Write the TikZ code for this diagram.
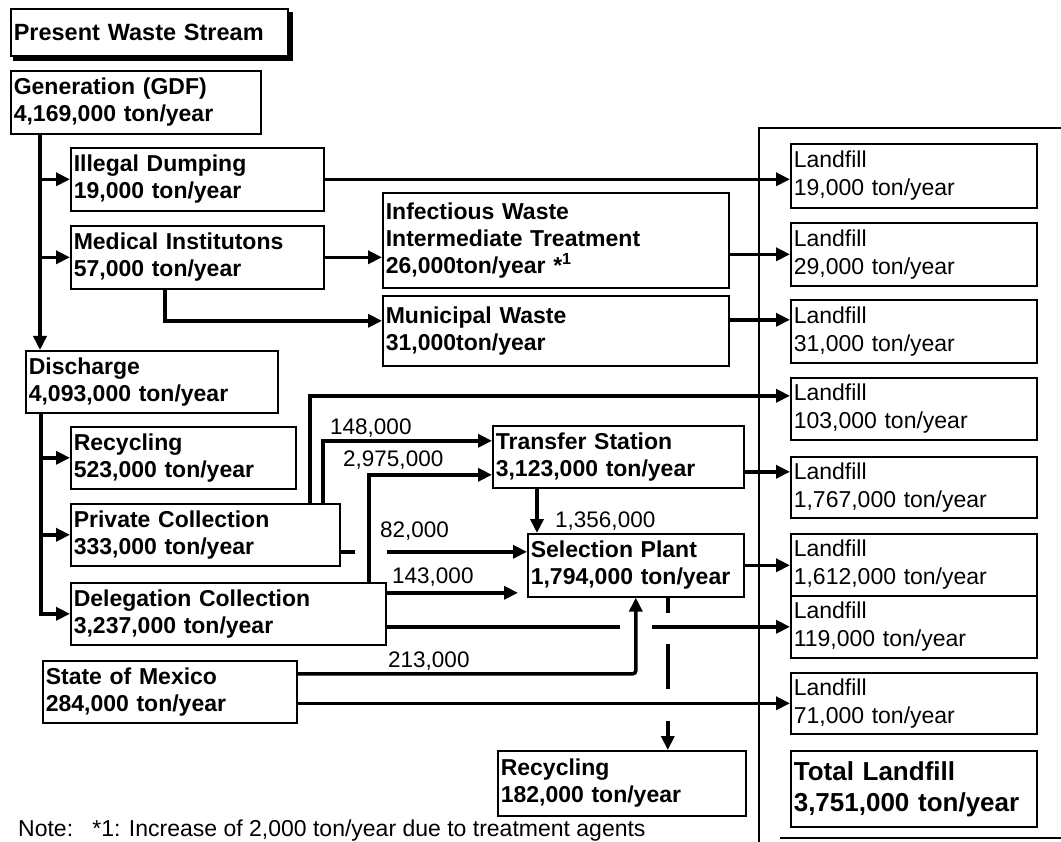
\documentclass[tikz,border=0pt]{standalone}
\usepackage{fontspec}
\setmainfont{Liberation Sans}
\usetikzlibrary{arrows.meta,calc}
\newcommand\bxfont{\fontsize{23}{27}\selectfont\bfseries}
\newcommand\lffont{\fontsize{23}{28}\selectfont}
\newcommand\lblfont{\fontsize{22.5}{22.5}\selectfont}
\begin{document}
\begin{tikzpicture}[x=1pt,y=-1pt,
  bx/.style={draw, line width=1.6pt, anchor=north west, inner xsep=3pt, inner ysep=0pt, align=left, font=\bxfont},
  lf/.style={bx, font=\lffont},
  conn/.style={line width=3.5pt},
  arr/.style={conn, -{Triangle[length=14pt,width=13pt]}},
  lbl/.style={anchor=base west, inner sep=0pt, font=\lblfont},
  frameline/.style={line width=2.4pt}]
\useasboundingbox (0,0) rectangle (1061,842);
\clip (0,0) rectangle (1061,842);
\fill[white] (0,0) rectangle (1061,842);

% title
\node[bx, text width=271pt, minimum height=47pt, font=\fontsize{23.5}{27}\selectfont\bfseries] (title) at (10,8) {Present Waste Stream};
\draw[line width=4pt] ($(title.north east)+(2,4)$) -- ($(title.south east)+(2,2)$) -- ($(title.south west)+(3,2)$);

% left column
\node[bx, text width=244pt, minimum height=63pt] (gen) at (10,70) {Generation (GDF)\\4,169,000 ton/year};
\node[bx, text width=247pt, minimum height=63pt] (illegal) at (70,147) {Illegal Dumping\\19,000 ton/year};
\node[bx, text width=247pt, minimum height=63pt] (medical) at (70,225) {Medical Institutons\\57,000 ton/year};
\node[bx, text width=340pt, minimum height=95pt] (infectious) at (382,192) {Infectious Waste\\Intermediate Treatment\\26,000ton/year~*\textsuperscript{1}};
\node[bx, text width=340pt, minimum height=70pt] (municipal) at (382,295) {Municipal Waste\\31,000ton/year};
\node[bx, text width=246pt, minimum height=62pt] (discharge) at (25,350) {Discharge\\4,093,000 ton/year};
\node[bx, text width=219pt, minimum height=62pt] (recyc1) at (70,426) {Recycling\\523,000 ton/year};
\node[bx, text width=263pt, minimum height=62pt] (private) at (70,503) {Private Collection\\333,000 ton/year};
\node[bx, text width=309pt, minimum height=62pt] (delegation) at (70,582) {Delegation Collection\\3,237,000 ton/year};
\node[bx, text width=248pt, minimum height=62pt] (state) at (42,660) {State of Mexico\\284,000 ton/year};
\node[bx, text width=245pt, minimum height=62pt] (transfer) at (492,425) {Transfer Station\\3,123,000 ton/year};
\node[bx, text width=210pt, minimum height=63pt] (selection) at (527,533) {Selection Plant\\1,794,000 ton/year};
\node[bx, text width=242pt, minimum height=65pt] (recyc2) at (497,750) {Recycling\\182,000 ton/year};

% landfills
\node[lf, text width=240pt, minimum height=64pt] (L1) at (790,143) {Landfill\\19,000 ton/year};
\node[lf, text width=240pt, minimum height=63pt] (L2) at (790,222) {Landfill\\29,000 ton/year};
\node[lf, text width=240pt, minimum height=63pt] (L3) at (790,299) {Landfill\\31,000 ton/year};
\node[lf, text width=240pt, minimum height=62pt] (L4) at (790,377) {Landfill\\103,000 ton/year};
\node[lf, text width=240pt, minimum height=61pt] (L5) at (790,456) {Landfill\\1,767,000 ton/year};
\node[lf, text width=240pt, minimum height=62pt] (L6) at (790,533) {Landfill\\1,612,000 ton/year};
\node[lf, text width=240pt, minimum height=62pt] (L7) at (790,595) {Landfill\\119,000 ton/year};
\node[lf, text width=240pt, minimum height=61pt] (L8) at (790,672) {Landfill\\71,000 ton/year};
\node[bx, text width=240pt, minimum height=76pt, font=\fontsize{26}{31}\selectfont\bfseries] (total) at (790,750) {Total Landfill\\3,751,000 ton/year};

% frame
\draw[frameline] (759,842) -- (759,128) -- (1061,128);
\draw[frameline] (780,838) -- (1061,838);

% generation trunk
\coordinate (gtr) at ($(gen.south west)+(30,0)$);
\draw[arr] (gtr) -- (gtr |- discharge.north);
\draw[arr] (gtr |- illegal.west) -- (illegal.west);
\draw[arr] (gtr |- medical.west) -- (medical.west);

\draw[arr] (illegal.east) -- (illegal.east -| L1.west);
\draw[arr] (medical.east) -- (medical.east -| infectious.west);
\draw[arr] ($(medical.south west)+(95,0)$) |- ($(municipal.west)+(0,-10)$);
\draw[arr] (L2.west -| infectious.east) -- (L2.west);
\coordinate (m3) at ($(municipal.east)+(0,-11)$);
\draw[arr] (m3) -- (m3 -| L3.west);

% discharge trunk
\coordinate (dtr) at ($(discharge.south west)+(16,0)$);
\draw[arr] (dtr) |- (delegation.west);
\draw[arr] (dtr |- recyc1.west) -- (recyc1.west);
\draw[arr] (dtr |- private.west) -- (private.west);

% private collection
\coordinate (p4) at ($(private.north west)+(240,0)$);
\draw[arr] (p4) |- ($(L4.west)+(0,-13)$);
\coordinate (p1) at ($(private.north west)+(253,0)$);
\draw[arr] (p1) |- ($(transfer.west)+(0,-16)$);
\node[lbl] (l148) at (330,435) {148,000};
\coordinate (p2) at ($(private.east)+(0,17)$);
\draw[conn] (p2) -- ++(14,0);
\coordinate (p3) at ($(p2)+(46,0)$);
\draw[arr] (p3) -- (p3 -| selection.west);
\node[lbl] (l82) at (380,537) {82,000};

% delegation collection
\coordinate (d1) at ($(delegation.north west)+(299,0)$);
\draw[arr] (d1) |- ($(transfer.west)+(0,18)$);
\node[lbl] (l2975) at (343,467) {2,975,000};
\coordinate (d2) at ($(delegation.east)+(0,-21)$);
\coordinate (s2) at ($(d2 -| selection.west)+(-9,0)$);
\draw[arr] (d2) -- (s2);
\node[lbl] (l143) at (392,583) {143,000};
\coordinate (d3) at (delegation.east |- L7.west);
\draw[conn] (d3) -- ++(233,0);
\coordinate (d4) at ($(L7.west)+(-138,0)$);
\draw[arr] (d4) -- (L7.west);

% state of mexico
\coordinate (s3) at ($(state.east)+(0,-18)$);
\draw[arr, rounded corners=3pt] (s3) -| (selection.south);
\node[lbl] (l213) at (388,667) {213,000};
\draw[arr] (L8.west -| state.east) -- (L8.west);

% transfer station
\coordinate (t1) at ($(transfer.south west)+(45,0)$);
\draw[arr] (t1) -- (t1 |- selection.north);
\node[lbl] (l1356) at (555,527) {1,356,000};
\coordinate (t2) at ($(transfer.east)+(0,15)$);
\draw[arr] (t2) -- (t2 -| L5.west);

% selection plant
\draw[arr] (selection.east) -- (selection.east -| L6.west);
\coordinate (s4) at ($(selection.south)+(32,0)$);
\draw[conn] (s4) -- ++(0,15);
\draw[conn] ($(s4)+(0,46)$) -- ++(0,45);
\draw[arr] ($(s4)+(0,123)$) -- (s4 |- recyc2.north);

% note
\node[lbl, font=\fontsize{23}{23}\selectfont] (note) at (18,836) {Note:\ \ \ *1: Increase of 2,000 ton/year due to treatment agents};
\end{tikzpicture}
\end{document}
